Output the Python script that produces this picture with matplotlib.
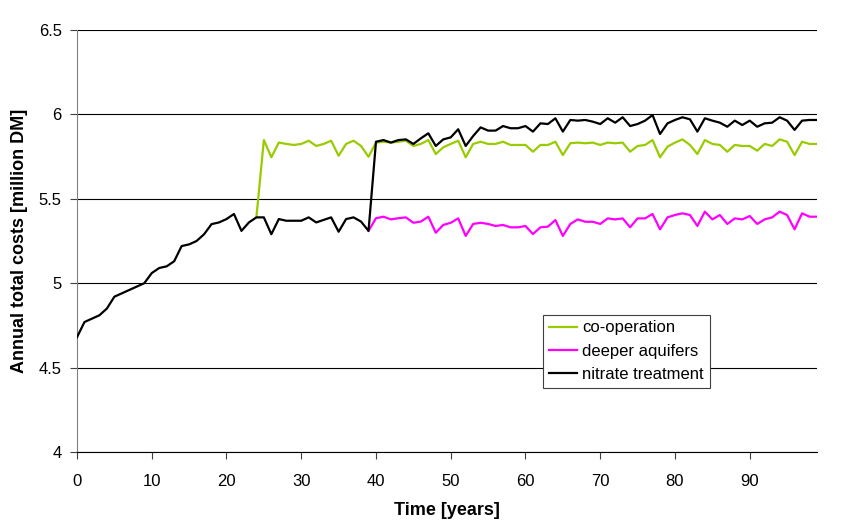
import numpy as np
import matplotlib
matplotlib.use('Agg')
import matplotlib.pyplot as plt

plt.rcParams['font.family'] = ['Liberation Sans', 'DejaVu Sans']

# annual total costs [million DM], one value per year (0..99)
base_early = [4.68, 4.77, 4.79, 4.81, 4.85, 4.92, 4.94, 4.96, 4.98, 5.00,
              5.06, 5.09, 5.10, 5.13, 5.22, 5.23, 5.25, 5.29, 5.35, 5.36,
              5.38, 5.41, 5.31, 5.36, 5.39]                       # years 0-24
nitrate_mid = [5.39, 5.29, 5.38, 5.37, 5.37, 5.37, 5.39, 5.36, 5.375, 5.39,
               5.305, 5.38, 5.39, 5.365, 5.31]                    # years 25-39
nitrate_late = [5.838, 5.848, 5.833, 5.848, 5.852, 5.825, 5.858, 5.888, 5.813, 5.852,
                5.864, 5.912, 5.813, 5.872, 5.923, 5.904, 5.904, 5.931, 5.918, 5.918,
                5.931, 5.898, 5.947, 5.943, 5.977, 5.898, 5.967, 5.963, 5.967, 5.957,
                5.943, 5.977, 5.951, 5.983, 5.931, 5.943, 5.963, 5.996, 5.884, 5.947,
                5.967, 5.983, 5.971, 5.898, 5.977, 5.963, 5.951, 5.927, 5.963, 5.937,
                5.963, 5.927, 5.947, 5.951, 5.983, 5.963, 5.908, 5.963, 5.967, 5.967]  # 40-99
coop_tail = [5.848, 5.746, 5.833, 5.825, 5.819, 5.825, 5.844, 5.813, 5.825, 5.844,
             5.755, 5.825, 5.844, 5.813, 5.749, 5.833, 5.838, 5.833, 5.838, 5.844,
             5.813, 5.825, 5.848, 5.765, 5.805, 5.825, 5.844, 5.746, 5.825, 5.838,
             5.825, 5.825, 5.838, 5.819, 5.819, 5.819, 5.779, 5.819, 5.819, 5.838,
             5.759, 5.829, 5.833, 5.829, 5.833, 5.819, 5.833, 5.829, 5.833, 5.779,
             5.813, 5.819, 5.848, 5.746, 5.809, 5.833, 5.852, 5.819, 5.765, 5.848,
             5.825, 5.819, 5.779, 5.819, 5.813, 5.813, 5.785, 5.825, 5.813, 5.852,
             5.838, 5.759, 5.838, 5.825, 5.825]                   # years 25-99
deeper_tail = [5.385, 5.394, 5.378, 5.385, 5.39, 5.358, 5.365, 5.394, 5.299, 5.345,
               5.358, 5.384, 5.280, 5.351, 5.358, 5.351, 5.339, 5.345, 5.331, 5.331,
               5.339, 5.291, 5.331, 5.335, 5.374, 5.280, 5.351, 5.378, 5.364, 5.364,
               5.351, 5.384, 5.378, 5.384, 5.331, 5.384, 5.384, 5.41, 5.319, 5.390,
               5.404, 5.414, 5.404, 5.339, 5.424, 5.378, 5.404, 5.351, 5.384, 5.378,
               5.398, 5.351, 5.378, 5.390, 5.424, 5.404, 5.319, 5.414, 5.394, 5.394]  # 40-99

labels = ['co-operation', 'deeper aquifers', 'nitrate treatment']
colors = ['#99CC00', '#FF00FF', 'black']


def main():
    nitrate = np.array(base_early + nitrate_mid + nitrate_late)
    years = np.arange(len(nitrate))
    coop = np.concatenate([nitrate[24:25], coop_tail])
    deeper = np.concatenate([nitrate[39:40], deeper_tail])

    fig = plt.figure(figsize=(8.53, 5.31), dpi=100)
    ax = fig.add_axes([77 / 853, 1 - 452 / 531, 740 / 853, 422 / 531])

    lw = 1.6
    ax.plot(years[24:], coop, color=colors[0], lw=lw, label=labels[0], zorder=3)
    ax.plot(years[39:], deeper, color=colors[1], lw=lw, label=labels[1], zorder=3)
    ax.plot(years, nitrate, color=colors[2], lw=lw, label=labels[2], zorder=4)

    ax.set_xlim(0, 99)
    ax.set_ylim(4, 6.5)
    ax.set_xticks(np.arange(0, 100, 10))
    ax.set_yticks([4, 4.5, 5, 5.5, 6, 6.5])
    ax.set_yticklabels(['4', '4.5', '5', '5.5', '6', '6.5'])
    ax.yaxis.grid(True, color='black', lw=0.8)
    ax.set_axisbelow(True)

    for s in ['top', 'right']:
        ax.spines[s].set_visible(False)
    ax.spines['left'].set_color('#808080')
    ax.spines['bottom'].set_color('black')
    ax.tick_params(axis='both', labelsize=12, direction='out', length=5,
                   width=0.8, color='#404040', pad=6)
    ax.tick_params(axis='x', pad=11)

    ax.set_xlabel('Time [years]', fontsize=13, fontweight='bold')
    ax.set_ylabel('Annual total costs [million DM]', fontsize=13, fontweight='bold')
    ax.xaxis.set_label_coords(0.5, -50 / 422)
    ax.yaxis.set_label_coords(-49 / 740, 0.5)

    leg = ax.legend(loc='lower left', bbox_to_anchor=(0.630, 0.152),
                    borderaxespad=0, fontsize=12, fancybox=False, framealpha=1,
                    edgecolor='#404040', handlelength=1.7, handletextpad=0.3,
                    labelspacing=0.5, borderpad=0.35)
    leg.get_frame().set_linewidth(0.8)

    plt.savefig('out.png', dpi=100)


if __name__ == '__main__':
    main()
